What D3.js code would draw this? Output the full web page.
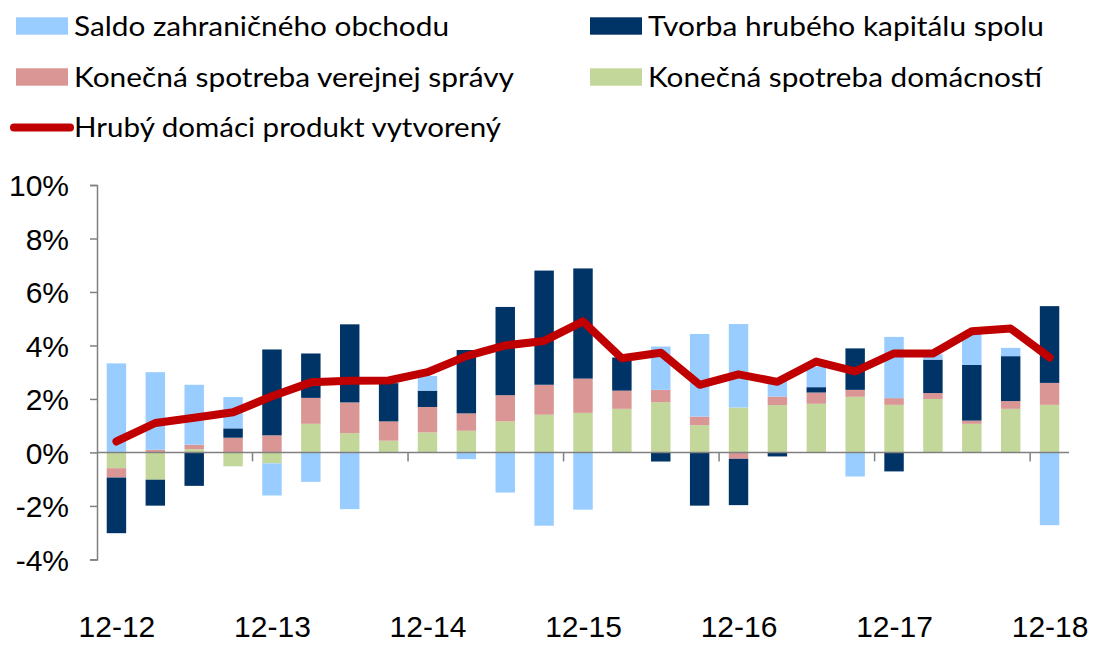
<!DOCTYPE html>
<html>
<head>
<meta charset="utf-8">
<script src="https://cdn.jsdelivr.net/npm/d3@7"></script>
<style>
  html, body { margin: 0; padding: 0; background: #fff; }
  svg { display: block; }
</style>
</head>
<body>
<svg id="chart" width="1094" height="646"></svg>
<script>
// ---- data ----
const categories = ["12-12","03-13","06-13","09-13","12-13","03-14","06-14","09-14","12-14","03-15","06-15","09-15","12-15","03-16","06-16","09-16","12-16","03-17","06-17","09-17","12-17","03-18","06-18","09-18","12-18"];
const tickLabels = ["12-12","12-13","12-14","12-15","12-16","12-17","12-18"];
const yTicks = [-4, -2, 0, 2, 4, 6, 8, 10];

const domacnosti = [-0.59, -1.02, 0.12, -0.52, -0.41, 1.07, 0.72, 0.44, 0.75, 0.81, 1.16, 1.41, 1.48, 1.63, 1.88, 1.02, 1.68, 1.77, 1.82, 2.08, 1.78, 2.00, 1.07, 1.63, 1.78];
const verejna    = [-0.35, 0.10, 0.17, 0.55, 0.64, 0.97, 1.15, 0.72, 0.95, 0.65, 0.98, 1.12, 1.28, 0.68, 0.46, 0.32, -0.24, 0.32, 0.42, 0.26, 0.25, 0.22, 0.12, 0.29, 0.82];
const tvorba     = [-2.08, -0.97, -1.25, 0.35, 3.21, 1.66, 2.92, 1.43, 0.61, 2.37, 3.30, 4.27, 4.12, 1.24, -0.34, -1.99, -1.73, -0.15, 0.20, 1.55, -0.71, 1.25, 2.08, 1.68, 2.87];
const saldo      = [3.33, 2.90, 2.24, 1.17, -1.20, -1.10, -2.12, 0.00, 0.55, -0.25, -1.50, -2.74, -2.14, 0.00, 1.62, 3.09, 3.12, 0.60, 0.77, -0.90, 2.29, 0.20, 1.18, 0.31, -2.72];
const hdp        = [0.41, 1.10, 1.30, 1.50, 2.10, 2.62, 2.68, 2.69, 3.00, 3.60, 4.00, 4.17, 4.90, 3.52, 3.73, 2.53, 2.92, 2.64, 3.40, 3.03, 3.70, 3.70, 4.53, 4.63, 3.55];

const seriesNames = {
  saldo: "Saldo zahraničného obchodu",
  tvorba: "Tvorba hrubého kapitálu spolu",
  verejna: "Konečná spotreba verejnej správy",
  domacnosti: "Konečná spotreba domácností",
  hdp: "Hrubý domáci produkt vytvorený"
};
const colors = {
  saldo: "#99CCFF",
  tvorba: "#003366",
  verejna: "#D99694",
  domacnosti: "#C4D79B",
  hdp: "#C00000"
};

// ---- build table ----
const table = categories.map((c, i) => ({
  cat: c,
  domacnosti: domacnosti[i],
  verejna: verejna[i],
  tvorba: tvorba[i],
  saldo: saldo[i]
}));
const stackKeys = ["domacnosti", "verejna", "tvorba", "saldo"];
const stacked = d3.stack().keys(stackKeys).offset(d3.stackOffsetDiverging)(table);

const svg = d3.select("#chart");
const left = 97, right = 1069;

const x = d3.scaleBand().domain(categories).range([left, right]).paddingInner(0.5).paddingOuter(0.25);
const y = d3.scaleLinear().domain([-4, 10]).range([559.4, 185]);

const axisColor = "#808080";

// bars
svg.append("g").selectAll("g")
  .data(stacked)
  .join("g")
  .attr("fill", d => colors[d.key])
  .selectAll("rect")
  .data(d => d)
  .join("rect")
  .attr("x", d => x(d.data.cat))
  .attr("width", x.bandwidth())
  .attr("y", d => y(Math.max(d[0], d[1])))
  .attr("height", d => Math.abs(y(d[0]) - y(d[1])));

// y axis
const yAxis = d3.axisLeft(y).tickValues(yTicks).tickFormat(d => d + "%").tickSize(7).tickPadding(21);
const gy = svg.append("g").attr("transform", `translate(${left},0)`).call(yAxis);
gy.select(".domain").attr("stroke", axisColor).attr("stroke-width", 1.5);
gy.selectAll(".tick line").attr("stroke", axisColor).attr("stroke-width", 1.5);
gy.selectAll(".tick text")
  .attr("font-family", "'Liberation Sans', Arial, sans-serif")
  .attr("font-size", 30)
  .attr("fill", "#000")
  .attr("dy", "0.36em");

// x axis line at zero
svg.append("line")
  .attr("x1", left).attr("x2", right)
  .attr("y1", y(0)).attr("y2", y(0))
  .attr("stroke", axisColor).attr("stroke-width", 1.5);

// category boundary ticks every 4 quarters
const step = x.step();
const boundaryIdx = d3.range(4, categories.length, 4);
svg.append("g").selectAll("line")
  .data(boundaryIdx)
  .join("line")
  .attr("x1", i => x(categories[i]) - step * 0.25)
  .attr("x2", i => x(categories[i]) - step * 0.25)
  .attr("y1", y(0))
  .attr("y2", y(0) + 9)
  .attr("stroke", axisColor).attr("stroke-width", 1.5);

// x labels
const xLabelScale = d3.scalePoint().domain(categories).range([x(categories[0]) + x.bandwidth() / 2, x(categories[categories.length - 1]) + x.bandwidth() / 2]);
const xAxis = d3.axisBottom(xLabelScale).tickValues(tickLabels).tickSize(0).tickPadding(9);
const gx = svg.append("g").attr("transform", "translate(0,607)").call(xAxis);
gx.select(".domain").remove();
gx.selectAll(".tick text")
  .attr("font-family", "'Liberation Sans', Arial, sans-serif")
  .attr("font-size", 30)
  .attr("fill", "#000");

// GDP line
const line = d3.line()
  .x((d, i) => x(categories[i]) + x.bandwidth() / 2)
  .y(d => y(d));
svg.append("path")
  .datum(hdp)
  .attr("d", line)
  .attr("fill", "none")
  .attr("stroke", colors.hdp)
  .attr("stroke-width", 8)
  .attr("stroke-linejoin", "round")
  .attr("stroke-linecap", "round");

// legend
const legendItems = [
  { key: "saldo", col: 0, row: 0, w: 375, type: "rect" },
  { key: "tvorba", col: 1, row: 0, w: 396, type: "rect" },
  { key: "verejna", col: 0, row: 1, w: 440, type: "rect" },
  { key: "domacnosti", col: 1, row: 1, w: 394, type: "rect" },
  { key: "hdp", col: 0, row: 2, w: 427, type: "line" }
];
const colX = [16, 590];
const rowY = [26, 77, 127.5];
const lg = svg.append("g");
legendItems.forEach(it => {
  const gx0 = colX[it.col], gy0 = rowY[it.row];
  if (it.type === "rect") {
    lg.append("rect").attr("x", gx0).attr("y", gy0 - 8.7).attr("width", 52).attr("height", 17.4).attr("fill", colors[it.key]);
  } else {
    lg.append("line").attr("x1", gx0 - 2).attr("x2", gx0 + 54).attr("y1", gy0).attr("y2", gy0)
      .attr("stroke", colors[it.key]).attr("stroke-width", 8).attr("stroke-linecap", "round");
  }
  lg.append("text")
    .attr("x", gx0 + 58)
    .attr("y", gy0 + 9.5)
    .attr("font-family", "Lato, 'Open Sans', sans-serif")
    .attr("font-size", 27)
    .attr("fill", "#000")
    .attr("textLength", it.w)
    .attr("lengthAdjust", "spacingAndGlyphs")
    .text(seriesNames[it.key]);
});
</script>
</body>
</html>
